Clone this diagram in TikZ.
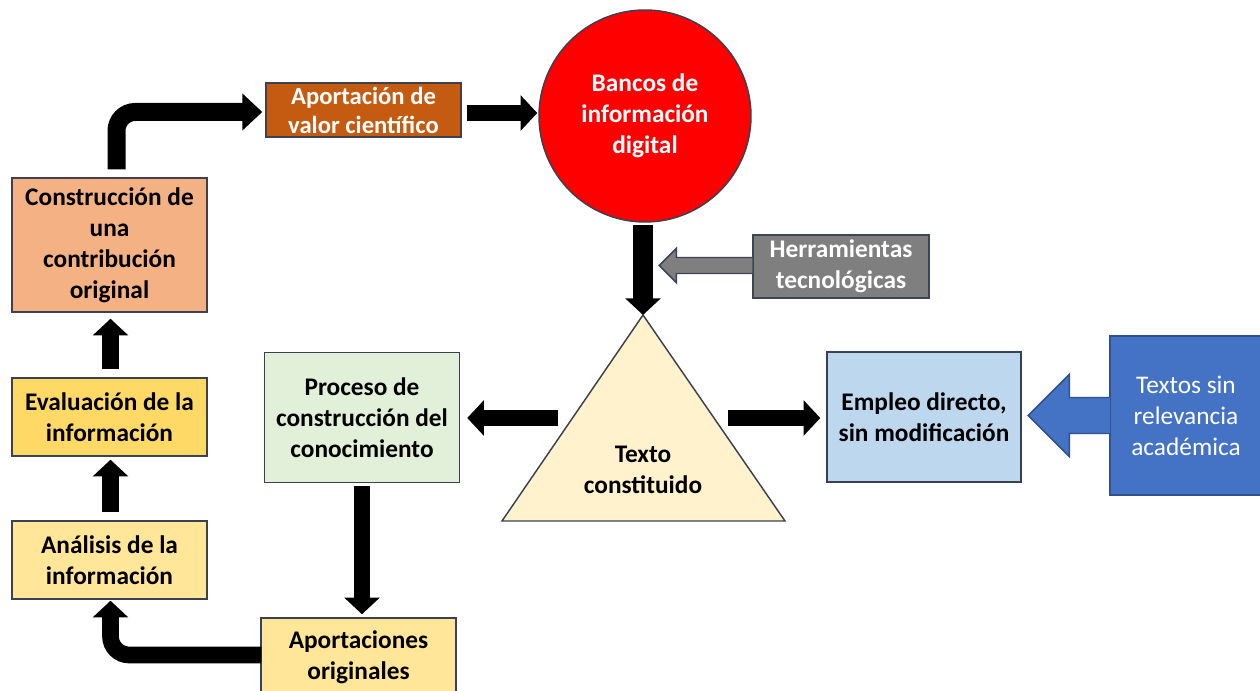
\documentclass[tikz,border=0pt]{standalone}
\usepackage{fontspec}
\setmainfont{Carlito}
\usetikzlibrary{arrows.meta,calc}
\definecolor{edge}{HTML}{3A4150}
\definecolor{cOrangeL}{HTML}{F4B183}
\definecolor{cGold}{HTML}{FFD966}
\definecolor{cYellowL}{HTML}{FFE699}
\definecolor{cRust}{HTML}{C55A11}
\definecolor{cRed}{HTML}{FF0000}
\definecolor{cGray}{HTML}{7F7F7F}
\definecolor{cGrayEdge}{HTML}{3A4656}
\definecolor{cGreenL}{HTML}{E2F0D9}
\definecolor{cCream}{HTML}{FFF2CC}
\definecolor{cBlueL}{HTML}{BDD7EE}
\definecolor{cBlue}{HTML}{4472C4}
\definecolor{cBlueEdge}{HTML}{2F528F}
\begin{document}
\begin{tikzpicture}[x=0.75pt,y=-0.75pt,
  box/.style={draw=edge, line width=1.1pt, align=center, inner sep=0pt,
    font=\bfseries\fontsize{19}{23.3}\selectfont},
  blk/.style={line width=12.5pt, draw=black, -{Triangle[width=26pt,length=12.5pt]}},
]
\useasboundingbox (0,0) rectangle (1260,691);
\clip (0,0) rectangle (1260,691);

% boxes
\node[box, fill=cOrangeL, minimum width=146.25pt, minimum height=100.5pt] (constr) at (109.5,245)
  {Construcción de\\una\\contribución\\original};
\node[box, fill=cGold, minimum width=146.25pt, minimum height=58.5pt] (eval) at (109.5,417)
  {Evaluación de la\\información};
\node[box, fill=cYellowL, minimum width=146.25pt, minimum height=58.5pt] (anal) at (109.5,560)
  {Análisis de la\\información};
\node[box, fill=cRust, text=white, minimum width=146.25pt, minimum height=40.5pt,
  font=\bfseries\fontsize{18.5}{21.8}\selectfont] (aport) at (363.5,110)
  {Aportación de\\valor científico};
\node[box, circle, fill=cRed, text=white, minimum size=159pt] (banco) at (645,116)
  {Bancos de\\información\\digital};
\node[box, draw=cGrayEdge, fill=cGray, text=white, minimum width=132pt, minimum height=47.25pt] (herr) at (841,266.5)
  {Herramientas\\tecnológicas};
\node[box, fill=cGreenL, minimum width=146.25pt, minimum height=97.5pt] (proceso) at (362,417.5)
  {Proceso de\\construcción del\\conocimiento};
\node[box, fill=cBlueL, minimum width=145.5pt, minimum height=97.5pt] (empleo) at (924,417)
  {Empleo directo,\\sin modificación};
\node[box, draw=cBlueEdge, fill=cBlue, text=white, minimum width=114pt, minimum height=119.25pt,
  font=\fontsize{19}{23.3}\selectfont] (textos) at (1186,415.5)
  {Textos sin\\relevancia\\académica};
\node[box, fill=cYellowL, minimum width=146.25pt, minimum height=58.5pt] (aportes) at (358.5,657)
  {Aportaciones\\originales};

% triangle
\coordinate (tapex) at (643,315);
\coordinate (tbl) at (502,521);
\coordinate (tbr) at (785,521);
\draw[draw=edge, line width=1.1pt, fill=cCream, line join=miter] (tapex) -- (tbr) -- (tbl) -- cycle;
\node[align=center, font=\bfseries\fontsize{19}{23.3}\selectfont] (texto) at (643,469.5)
  {Texto\\constituido};

% black block arrows
\draw[blk, rounded corners=14pt, -{Triangle[width=27pt,length=15pt]}, line width=13.5pt]
  ([shift={(7,-8)}]constr.north) |- ([shift={(-3,2)}]aport.west);
\draw[blk] ([shift={(5,3)}]aport.east) -- ([shift={(-1,-3)}]banco.west);
\draw[blk, line width=14.5pt] ([shift={(-2,2)}]banco.south) -- (tapex);
\draw[blk] ([shift={(98,0.5)}]proceso.east) -- ([shift={(7,0.5)}]proceso.east);
\draw[blk] ([shift={(-98,1)}]empleo.west) -- ([shift={(-6,1)}]empleo.west);
\draw[blk] ([shift={(0,3)}]proceso.south) -- ([shift={(3.5,-3)}]aportes.north);
\draw[blk, rounded corners=14pt] ([shift={(1,-2)}]aportes.west) -| ([shift={(1,1)}]anal.south);
\draw[blk] ([shift={(1,-8)}]anal.north) -- ([shift={(1,3)}]eval.south);
\draw[blk] ([shift={(1,-8)}]eval.north) -- ([shift={(1,6)}]constr.south);

% gray outlined arrow from Herramientas
\fill[cGray] ([shift={(0,-9)}]herr.west) -- ++(-76,0) -- ++(0,-9) -- ++(-17,17) -- ++(17,17) -- ++(0,-9) -- ([shift={(0,7)}]herr.west) -- cycle;
\draw[cGrayEdge, line width=1.1pt, line join=miter] ([shift={(0,-9)}]herr.west) -- ++(-76,0) -- ++(0,-9) -- ++(-17,17) -- ++(17,17) -- ++(0,-9) -- ([shift={(0,7)}]herr.west);

% blue outlined arrow from Textos
\fill[cBlue] ([shift={(0.6,-18)}]textos.west) -- ++(-40.6,0) -- ++(0,-23) -- ++(-41,41) -- ++(41,41) -- ++(0,-23) -- ([shift={(0.6,18)}]textos.west) -- cycle;
\draw[cBlueEdge, line width=1.1pt, line join=miter] ([shift={(0,-18)}]textos.west) -- ++(-40,0) -- ++(0,-23) -- ++(-41,41) -- ++(41,41) -- ++(0,-23) -- ([shift={(0,18)}]textos.west);
\end{tikzpicture}
\end{document}
